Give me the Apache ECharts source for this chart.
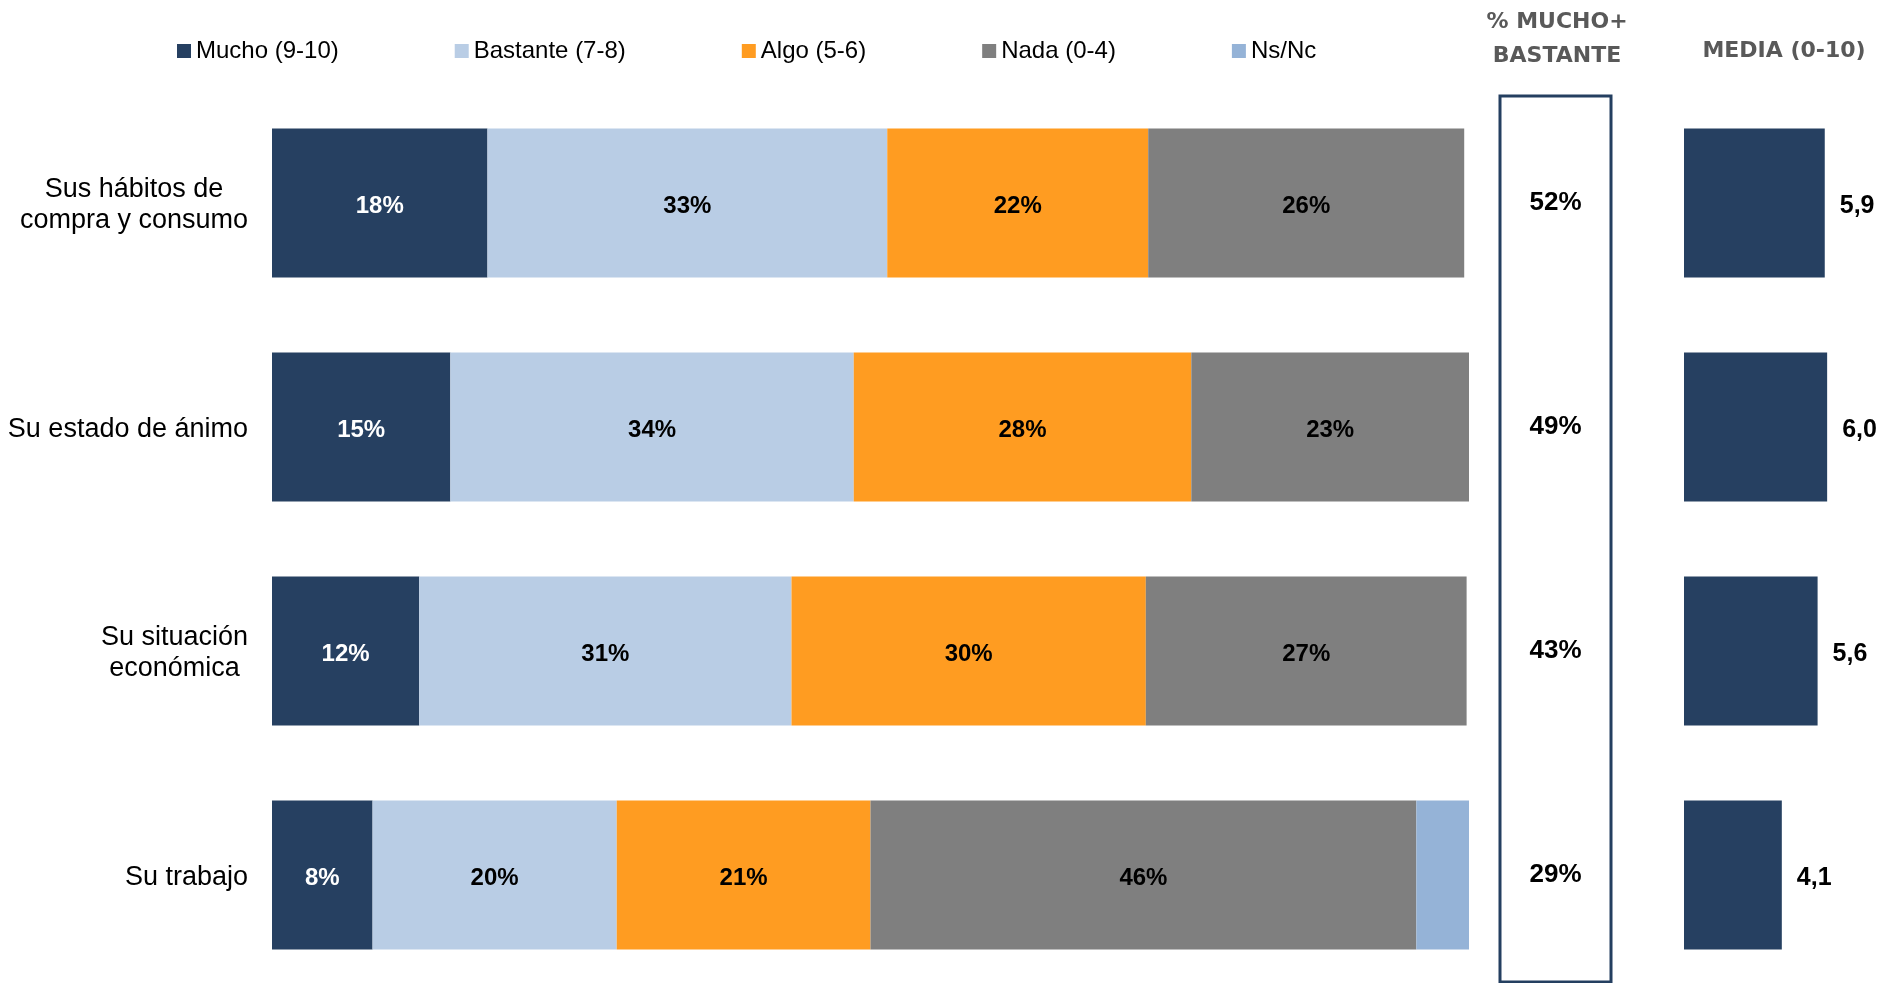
<!DOCTYPE html>
<html>
<head>
<meta charset="utf-8">
<script src="https://cdn.jsdelivr.net/npm/echarts@6/dist/echarts.min.js"></script>
<style>
  html, body { margin: 0; padding: 0; background: #ffffff; }
  #chart { width: 1885px; height: 983px; }
</style>
</head>
<body>
<div id="chart"></div>
<script>
// Survey rows (top to bottom)
const categories = ['Sus hábitos de\ncompra y consumo', 'Su estado de ánimo', 'Su situación\neconómica', 'Su trabajo'];
const seriesNames = ['Mucho (9-10)', 'Bastante (7-8)', 'Algo (5-6)', 'Nada (0-4)', 'Ns/Nc'];

// Share of answers per level, in %
const mucho    = [18.0, 14.9, 12.3, 8.4];
const bastante = [33.4, 33.7, 31.1, 20.4];
const algo     = [21.8, 28.2, 29.6, 21.2];
const nada     = [26.4, 23.2, 26.8, 45.6];
const nsnc     = [0, 0, 0, 4.4];

// Summary columns
const muchoBastante = [52, 49, 43, 29];
const media = [5.9, 6.0, 5.6, 4.1];

const colors = ['#264061', '#B9CDE5', '#FF9C21', '#7F7F7F', '#95B3D7'];
const labelColors = ['#ffffff', '#000000', '#000000', '#000000', '#000000'];
const FONT = '"Liberation Sans", Arial, sans-serif';
const HEAD_FONT = '"DejaVu Sans", sans-serif';

const stacks = [mucho, bastante, algo, nada, nsnc];

const chart = echarts.init(document.getElementById('chart'), null, { renderer: 'canvas' });

const catAxis = (gridIndex, showLabels) => ({
  type: 'category',
  gridIndex,
  data: categories,
  inverse: true,
  axisLine: { show: false },
  axisTick: { show: false },
  splitLine: { show: false },
  axisLabel: showLabels ? {
    margin: 24,
    padding: [5, 0, 0, 0],
    formatter: v => v.split('\n').map(l => '{c|' + l + '}').join('\n'),
    rich: {
      c: { align: 'center', fontSize: 27, lineHeight: 31, color: '#000000', fontFamily: FONT }
    }
  } : { show: false }
});

const valAxis = (gridIndex, min, max) => ({
  type: 'value',
  gridIndex,
  min,
  max,
  show: false,
  splitLine: { show: false }
});

const barSeries = stacks.map((arr, i) => ({
  name: seriesNames[i],
  type: 'bar',
  stack: 'total',
  xAxisIndex: 0,
  yAxisIndex: 0,
  barWidth: 149,
  data: arr,
  itemStyle: { color: colors[i] },
  label: {
    show: i < 4,
    position: 'inside',
    offset: [0, 3],
    formatter: p => (p.value >= 3 ? Math.round(p.value) + '%' : ''),
    color: labelColors[i],
    fontSize: 24,
    fontWeight: 'bold',
    fontFamily: FONT
  },
  emphasis: { disabled: true }
}));

const gridBase = { top: 91, height: 896, outerBoundsMode: 'none', containLabel: false };

const option = {
  animation: false,
  backgroundColor: '#ffffff',
  legend: {
    data: seriesNames,
    left: 172,
    top: 34,
    icon: 'rect',
    itemWidth: 14,
    itemHeight: 14,
    itemGap: 116,
    selectedMode: false,
    textStyle: { fontSize: 24, color: '#000000', fontFamily: FONT }
  },
  grid: [
    Object.assign({ left: 272, width: 1197 }, gridBase),
    Object.assign({ left: 1500, width: 111 }, gridBase),
    Object.assign({ left: 1684, width: 167 }, gridBase)
  ],
  xAxis: [valAxis(0, 0, 100), valAxis(1, 0, 1), valAxis(2, 0, 7)],
  yAxis: [catAxis(0, true), catAxis(1, false), catAxis(2, false)],
  series: [
    ...barSeries,
    {
      // "% Mucho + Bastante" column: values written inside the framed box
      type: 'bar',
      xAxisIndex: 1,
      yAxisIndex: 1,
      barWidth: 149,
      data: muchoBastante.map(v => ({ value: 1, pct: v })),
      itemStyle: { color: 'rgba(0,0,0,0)' },
      label: {
        show: true,
        position: 'inside',
        formatter: p => p.data.pct + '%',
        color: '#000000',
        fontSize: 26,
        fontWeight: 'bold',
        fontFamily: FONT,
        textBorderWidth: 0
      },
      emphasis: { disabled: true }
    },
    {
      type: 'bar',
      xAxisIndex: 2,
      yAxisIndex: 2,
      barWidth: 149,
      data: media,
      itemStyle: { color: '#264061' },
      label: {
        show: true,
        position: 'right',
        distance: 15,
        offset: [0, 3],
        formatter: p => p.value.toFixed(1).replace('.', ','),
        color: '#000000',
        fontSize: 25,
        fontWeight: 'bold',
        fontFamily: FONT
      },
      emphasis: { disabled: true }
    }
  ],
  graphic: [
    {
      type: 'rect',
      shape: { x: 1500, y: 96, width: 111, height: 886 },
      style: { fill: 'none', stroke: '#243F60', lineWidth: 3 }
    },
    {
      type: 'text',
      x: 1557,
      y: 39,
      style: {
        text: '% MUCHO+\nBASTANTE',
        fill: '#595959',
        font: 'bold 22px ' + HEAD_FONT,
        align: 'center',
        verticalAlign: 'middle',
        lineHeight: 34
      }
    },
    {
      type: 'text',
      x: 1784,
      y: 51,
      style: {
        text: 'MEDIA (0-10)',
        fill: '#595959',
        font: 'bold 22px ' + HEAD_FONT,
        align: 'center',
        verticalAlign: 'middle'
      }
    }
  ]
};

chart.setOption(option);
</script>
</body>
</html>
